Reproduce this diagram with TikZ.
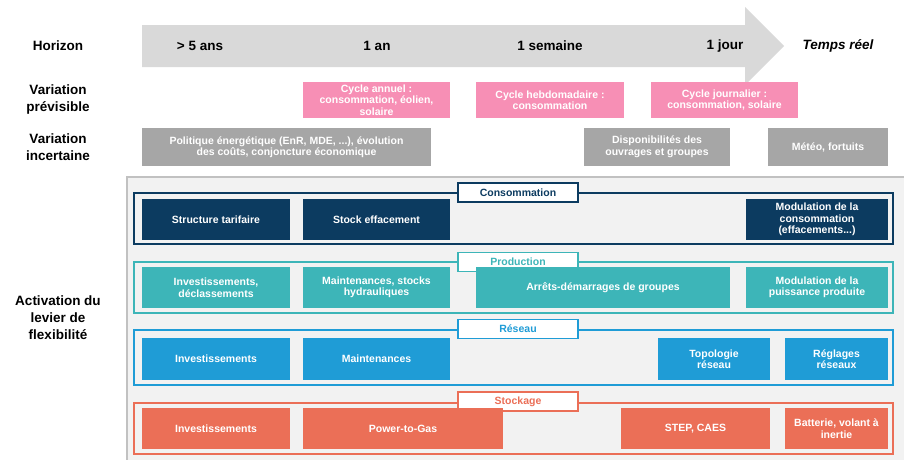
\documentclass[tikz,border=0pt]{standalone}
\usepackage{fontspec}
\setmainfont{Liberation Sans}
\usetikzlibrary{positioning}
\definecolor{arrowgray}{HTML}{D9D9D9}
\definecolor{cyclepink}{HTML}{F78FB5}
\definecolor{uncertgray}{HTML}{A6A6A6}
\definecolor{panelgray}{HTML}{F2F2F2}
\definecolor{navy}{HTML}{0C3B60}
\definecolor{teal}{HTML}{3DB5B8}
\definecolor{netblue}{HTML}{1F9CD6}
\definecolor{coral}{HTML}{EB6F57}
\tikzset{%
    lever box/.style={%
        fill=#1, text=white, align=center, inner sep=1pt,
        font=\bfseries\fontsize{10.5}{11.5}\selectfont
    },%
    lever frame/.style={%
        draw=#1, line width=1.6pt, minimum width=759, minimum height=51
    },%
    lever tag/.style={%
        draw=#1, text=#1, fill=white, line width=1.5pt,
        minimum width=120, minimum height=19, inner sep=0pt,
        font=\bfseries\fontsize{10.5}{12}\selectfont
    },%
    row label/.style={%
        align=center, font=\bfseries\fontsize{13.5}{17}\selectfont
    }%
}

\begin{document}
\begin{tikzpicture}[x=1pt, y=-1pt]
\useasboundingbox (0,0) rectangle (904,459);

% horizon arrow
\fill[arrowgray] (142,25) -- (745,25) -- (745,7) -- (784,46)
    -- (745,85) -- (745,67) -- (142,67) -- cycle;
\node[row label] (horizon) at (58,46) {Horizon};
\node[row label] (t5ans) at (200,46) {> 5 ans};
\node[row label] (t1an) at (377,46) {1 an};
\node[row label] (tsem) at (550,46) {1 semaine};
\node[row label] (tjour) at (725,46) {1 jour};
\node[row label, font=\bfseries\itshape\fontsize{13.5}{17}\selectfont]
    (treel) at (838,46) {Temps réel};

% variations
\node[row label] (prev) at (58,100) {Variation\\prévisible};
\node[row label] (incert) at (58,147) {Variation\\incertaine};
\begin{scope}[minimum height=36]
\node[lever box=cyclepink, minimum width=147] (annuel) at (376.5,100)
    {Cycle annuel :\\consommation, éolien,\\solaire};
\node[lever box=cyclepink, minimum width=148] (hebdo) at (550,100)
    {Cycle hebdomadaire :\\consommation};
\node[lever box=cyclepink, minimum width=147] (journ) at (724.5,100)
    {Cycle journalier :\\consommation, solaire};
\end{scope}
\begin{scope}[minimum height=38]
\node[lever box=uncertgray, minimum width=289] (politique) at (286.5,147)
    {Politique énergétique (EnR, MDE, ...), évolution\\des coûts, conjoncture économique};
\node[lever box=uncertgray, minimum width=146] (dispo) at (657,147)
    {Disponibilités des\\ouvrages et groupes};
\node[lever box=uncertgray, minimum width=120] (meteo) at (828,147)
    {Météo, fortuits};
\end{scope}

% activation panel
\draw[fill=panelgray, draw=uncertgray!70, line width=1.5pt]
    (127,177) rectangle (915,470);
\node[row label] (activ) at (58,318) {Activation du\\levier de\\flexibilité};

% consommation
\node[lever frame=navy] (consF) at (513.5,218.5) {};
\node[lever tag=navy] (consT) at (518,192.5) {Consommation};
\begin{scope}[minimum height=41]
\node[lever box=navy, minimum width=148] (tarif) at (216,219.5) {Structure tarifaire};
\node[lever box=navy, minimum width=147] (stock) at (376.5,219.5) {Stock effacement};
\node[lever box=navy, minimum width=142] (modcons) at (817,219.5)
    {Modulation de la\\consommation\\(effacements...)};
\end{scope}

% production
\node[lever frame=teal] (prodF) at (513.5,287.5) {};
\node[lever tag=teal] (prodT) at (518,262) {Production};
\begin{scope}[minimum height=41]
\node[lever box=teal, minimum width=148] (invprod) at (216,287.5)
    {Investissements,\\déclassements};
\node[lever box=teal, minimum width=147] (maintprod) at (376.5,287.5)
    {Maintenances, stocks\\hydrauliques};
\node[lever box=teal, minimum width=254] (arrets) at (603,287.5)
    {Arrêts-démarrages de groupes};
\node[lever box=teal, minimum width=142] (modprod) at (817,287.5)
    {Modulation de la\\puissance produite};
\end{scope}

% reseau
\node[lever frame=netblue, minimum height=55] (resF) at (513.5,357.5) {};
\node[lever tag=netblue] (resT) at (518,329) {Réseau};
\begin{scope}[minimum height=42]
\node[lever box=netblue, minimum width=148] (invres) at (216,359) {Investissements};
\node[lever box=netblue, minimum width=147] (maintres) at (376.5,359) {Maintenances};
\node[lever box=netblue, minimum width=112] (topo) at (714,359) {Topologie\\réseau};
\node[lever box=netblue, minimum width=103] (regl) at (836.5,359) {Réglages\\réseaux};
\end{scope}

% stockage
\node[lever frame=coral] (stoF) at (513.5,428.5) {};
\node[lever tag=coral] (stoT) at (518,401.5) {Stockage};
\begin{scope}[minimum height=41]
\node[lever box=coral, minimum width=148] (invsto) at (216,428.5) {Investissements};
\node[lever box=coral, minimum width=200] (p2g) at (403,428.5) {Power-to-Gas};
\node[lever box=coral, minimum width=149] (step) at (695.5,428.5) {STEP, CAES};
\node[lever box=coral, minimum width=103] (batt) at (836.5,428.5)
    {Batterie, volant à\\inertie};
\end{scope}
\end{tikzpicture}
\end{document}
